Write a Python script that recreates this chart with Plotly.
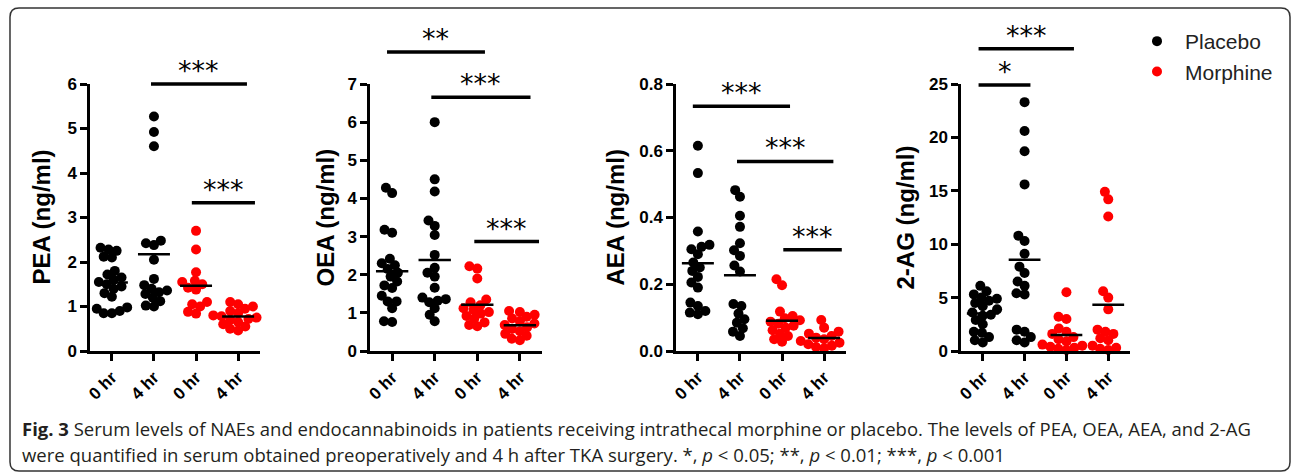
import math
import plotly.graph_objects as go

W, H = 1293, 474

# ---------------- data ----------------
categories = ["0 hr", "4 hr", "0 hr", "4 hr"]
groups = ["Placebo", "Placebo", "Morphine", "Morphine"]
group_colors = {"Placebo": "#000000", "Morphine": "#ff0000"}

PEA_placebo_0hr = [2.32, 2.28, 2.25, 2.12, 2.10, 1.80, 1.72, 1.65, 1.60, 1.55,
                   1.50, 1.45, 1.40, 1.30, 1.22, 0.98, 0.95, 0.90, 0.85, 0.85]
PEA_placebo_4hr = [5.27, 4.92, 4.60, 2.48, 2.42, 2.38, 2.05, 1.62, 1.48, 1.40,
                   1.36, 1.32, 1.28, 1.20, 1.12, 1.02, 1.00]
PEA_morphine_0hr = [2.70, 2.28, 1.77, 1.58, 1.55, 1.50, 1.42, 1.38, 1.10, 1.05,
                    1.00, 0.88, 0.84]
PEA_morphine_4hr = [1.10, 1.05, 1.00, 0.95, 0.90, 0.85, 0.80, 0.78, 0.75, 0.72,
                    0.70, 0.65, 0.60, 0.55, 0.50, 0.46]

OEA_placebo_0hr = [4.28, 4.14, 3.18, 3.10, 2.42, 2.30, 2.25, 2.15, 2.05, 1.95,
                   1.82, 1.72, 1.65, 1.45, 1.30, 1.30, 1.12, 0.78, 0.76]
OEA_placebo_4hr = [6.00, 4.50, 4.18, 3.42, 3.28, 3.04, 2.52, 2.18, 2.05, 1.95,
                   1.66, 1.40, 1.36, 1.32, 1.28, 1.12, 0.95, 0.78]
OEA_morphine_0hr = [2.22, 2.16, 1.90, 1.35, 1.28, 1.20, 1.12, 1.08, 1.02, 0.98,
                    0.92, 0.85, 0.75, 0.68, 0.65]
OEA_morphine_4hr = [1.05, 1.02, 0.95, 0.90, 0.85, 0.78, 0.72, 0.68, 0.62, 0.58,
                    0.52, 0.45, 0.40, 0.32, 0.28]

AEA_placebo_0hr = [0.615, 0.533, 0.358, 0.318, 0.312, 0.305, 0.290, 0.265, 0.250,
                   0.240, 0.222, 0.205, 0.190, 0.145, 0.135, 0.120, 0.115, 0.110]
AEA_placebo_4hr = [0.482, 0.462, 0.405, 0.372, 0.323, 0.302, 0.285, 0.256, 0.238,
                   0.141, 0.135, 0.112, 0.095, 0.085, 0.068, 0.058, 0.045]
AEA_morphine_0hr = [0.215, 0.197, 0.118, 0.105, 0.098, 0.092, 0.088, 0.082, 0.076,
                    0.070, 0.062, 0.052, 0.045, 0.035, 0.028]
AEA_morphine_4hr = [0.093, 0.070, 0.058, 0.052, 0.045, 0.040, 0.035, 0.030, 0.025,
                    0.020, 0.016, 0.012, 0.008]

AG2_placebo_0hr = [6.1, 5.6, 5.3, 5.0, 4.9, 4.7, 4.5, 4.2, 3.9, 3.6, 3.3, 3.4,
                   2.9, 2.5, 1.8, 1.7, 1.3, 1.0, 0.8]
AG2_placebo_4hr = [23.3, 20.6, 18.7, 15.6, 10.8, 10.3, 9.1, 7.9, 7.3, 6.5, 6.1,
                   5.4, 5.3, 2.0, 1.8, 1.3, 1.0, 0.8]
AG2_morphine_0hr = [5.5, 3.2, 3.0, 2.1, 1.8, 1.6, 1.3, 1.1, 0.9, 0.6, 0.5, 0.4,
                    0.3, 0.2, 0.1]
AG2_morphine_4hr = [14.9, 14.2, 12.6, 5.6, 5.0, 3.9, 2.0, 1.8, 1.6, 1.2, 1.0,
                    0.5, 0.3, 0.2, 0.1]

y_titles = ["PEA (ng/ml)", "OEA (ng/ml)", "AEA (ng/ml)", "2-AG (ng/ml)"]
y_max = [6, 7, 0.8, 25]
y_dtick = [1, 1, 0.2, 5]
y_format = ["d", "d", ".1f", "d"]

# significance brackets: (x start, x end, height, label)
PEA_brackets = [(0.93, 3.21, 6.0, "***"), (1.90, 3.40, 3.33, "***")]
OEA_brackets = [(-0.12, 2.18, 7.84, "**"), (0.92, 3.25, 6.65, "***"),
                (1.93, 3.45, 2.87, "***")]
AEA_brackets = [(-0.12, 2.19, 0.733, "***"), (0.93, 3.22, 0.568, "***"),
                (2.03, 3.42, 0.303, "***")]
AG2_brackets = [(-0.10, 2.18, 28.3, "***"), (-0.10, 1.14, 24.9, "*")]

panel_data = [
    [PEA_placebo_0hr, PEA_placebo_4hr, PEA_morphine_0hr, PEA_morphine_4hr],
    [OEA_placebo_0hr, OEA_placebo_4hr, OEA_morphine_0hr, OEA_morphine_4hr],
    [AEA_placebo_0hr, AEA_placebo_4hr, AEA_morphine_0hr, AEA_morphine_4hr],
    [AG2_placebo_0hr, AG2_placebo_4hr, AG2_morphine_0hr, AG2_morphine_4hr],
]
panel_brackets = [PEA_brackets, OEA_brackets, AEA_brackets, AG2_brackets]

caption_1 = ("<b>Fig. 3</b> Serum levels of NAEs and endocannabinoids in patients receiving "
             "intrathecal morphine or placebo. The levels of PEA, OEA, AEA, and 2-AG")
caption_2 = ("were quantified in serum obtained preoperatively and 4 h after TKA surgery. "
             "*, <i>p</i> &lt; 0.05; **, <i>p</i> &lt; 0.01; ***, <i>p</i> &lt; 0.001")

# ---------------- layout geometry (pixels) ----------------
x_dom_px = [(90, 260), (370, 542), (676, 846), (961, 1130)]
y_dom_px = (84, 351)
x_range = [-0.52, 3.52]
ytitle_x_px = [41, 325, 615, 905]
MARKER = 10
SWARM_D = 8.2

FONT = "Liberation Sans, Arial, sans-serif"


def swarm(vals, xppu, yppu, d):
    """Simple beeswarm: horizontal offsets (in category units)."""
    order = sorted(range(len(vals)), key=lambda i: vals[i])
    placed = []
    offs = [0.0] * len(vals)
    for i in order:
        y = vals[i] * yppu
        cands = [0.0]
        for px, py in placed:
            dy = abs(py - y)
            if dy < d:
                dx = math.sqrt(d * d - dy * dy)
                cands += [px + dx, px - dx]
        cands.sort(key=lambda c: (abs(c), c))
        chosen = 0.0
        for c in cands:
            if all((c - px) ** 2 + (y - py) ** 2 >= d * d - 1e-6 for px, py in placed):
                chosen = c
                break
        placed.append((chosen, y))
        offs[i] = chosen / xppu
    return offs


fig = go.Figure()
layout = dict(
    width=W, height=H, margin=dict(l=0, r=0, t=0, b=0),
    paper_bgcolor="white", plot_bgcolor="white",
    font=dict(family=FONT, color="#000"),
    showlegend=True,
    legend=dict(x=1129 / W, y=1 - 21 / H, xanchor="left", yanchor="top",
                font=dict(size=21, family=FONT, color="#222"),
                bgcolor="rgba(0,0,0,0)", itemwidth=46, tracegroupgap=0),
)
shapes = []
annotations = []

for p in range(4):
    ax = "" if p == 0 else str(p + 1)
    xname, yname = "x" + ax, "y" + ax
    x0, x1 = x_dom_px[p]
    ydom = [1 - y_dom_px[1] / H, 1 - y_dom_px[0] / H]
    xppu = (x1 - x0) / (x_range[1] - x_range[0])
    yppu = (y_dom_px[1] - y_dom_px[0]) / y_max[p]

    for g in range(4):
        vals = panel_data[p][g]
        offs = swarm(vals, xppu, yppu, SWARM_D)
        name = groups[g]
        fig.add_trace(go.Scatter(
            x=[g + o for o in offs], y=vals, mode="markers",
            marker=dict(size=MARKER, color=group_colors[name], line=dict(width=0)),
            name=name, legendgroup=name,
            showlegend=(p == 0 and g in (0, 2)),
            cliponaxis=False, xaxis=xname, yaxis=yname, hoverinfo="y",
        ))
    for g in range(4):
        vals = panel_data[p][g]
        m = sum(vals) / len(vals)
        fig.add_trace(go.Scatter(
            x=[g - 0.38, g + 0.38], y=[m, m], mode="lines",
            line=dict(color="black", width=2.5), showlegend=False,
            xaxis=xname, yaxis=yname, hoverinfo="skip",
        ))

    common = dict(showline=True, linewidth=2.5, linecolor="black", ticks="outside",
                  ticklen=7, tickwidth=2.5, tickcolor="black", showgrid=False,
                  zeroline=False, automargin=False,
                  tickfont=dict(family=FONT, size=17, weight="bold", color="black"))
    layout["xaxis" + ax] = dict(
        domain=[x0 / W, x1 / W], range=x_range, anchor=yname,
        tickmode="array", tickvals=[0, 1, 2, 3], ticktext=categories,
        tickangle=-45, fixedrange=True, **common)
    layout["yaxis" + ax] = dict(
        domain=ydom, range=[0, y_max[p]], anchor=xname, dtick=y_dtick[p],
        tick0=0, tickformat=y_format[p], fixedrange=True, **common)

    for (bx0, bx1, by, lab) in panel_brackets[p]:
        yd = by / y_max[p]
        shapes.append(dict(type="line", xref=xname, yref=yname + " domain",
                           x0=bx0, x1=bx1, y0=yd, y1=yd,
                           line=dict(color="black", width=3.5)))
        annotations.append(dict(xref=xname, yref=yname + " domain",
                                x=(bx0 + bx1) / 2, y=yd, text=lab, showarrow=False,
                                yanchor="bottom", yshift=-4,
                                font=dict(family="DejaVu Sans", size=27, color="black")))

    annotations.append(dict(xref="paper", yref="paper", x=ytitle_x_px[p] / W,
                            y=1 - (sum(y_dom_px) / 2) / H, text=y_titles[p],
                            textangle=-90, showarrow=False, xanchor="center",
                            yanchor="middle",
                            font=dict(family=FONT, size=24, weight="bold", color="black")))

# caption
cap_font = dict(family="Open Sans, Noto Sans, sans-serif", size=18.5, color="#231f20")
annotations.append(dict(xref="paper", yref="paper", x=20 / W, y=1 - 428 / H,
                        xanchor="left", yanchor="middle", text=caption_1,
                        showarrow=False, font=cap_font))
annotations.append(dict(xref="paper", yref="paper", x=20 / W, y=1 - 454 / H,
                        xanchor="left", yanchor="middle", text=caption_2,
                        showarrow=False, font=cap_font))

# rounded border box
bx0, by0, bx1, by1, r = 10, 8, 1290, 471, 9
def P(x, y):
    return f"{x / W:.5f},{1 - y / H:.5f}"
path = (f"M {P(bx0 + r, by0)} L {P(bx1 - r, by0)} Q {P(bx1, by0)} {P(bx1, by0 + r)} "
        f"L {P(bx1, by1 - r)} Q {P(bx1, by1)} {P(bx1 - r, by1)} "
        f"L {P(bx0 + r, by1)} Q {P(bx0, by1)} {P(bx0, by1 - r)} "
        f"L {P(bx0, by0 + r)} Q {P(bx0, by0)} {P(bx0 + r, by0)} Z")
shapes.append(dict(type="path", xref="paper", yref="paper", path=path,
                   line=dict(color="#333333", width=1.5), layer="below"))

layout["shapes"] = shapes
layout["annotations"] = annotations
fig.update_layout(**layout)
fig.write_html("out.html", config={"displayModeBar": False},
               post_script="document.body.style.margin='0';document.body.style.overflow='hidden';")
